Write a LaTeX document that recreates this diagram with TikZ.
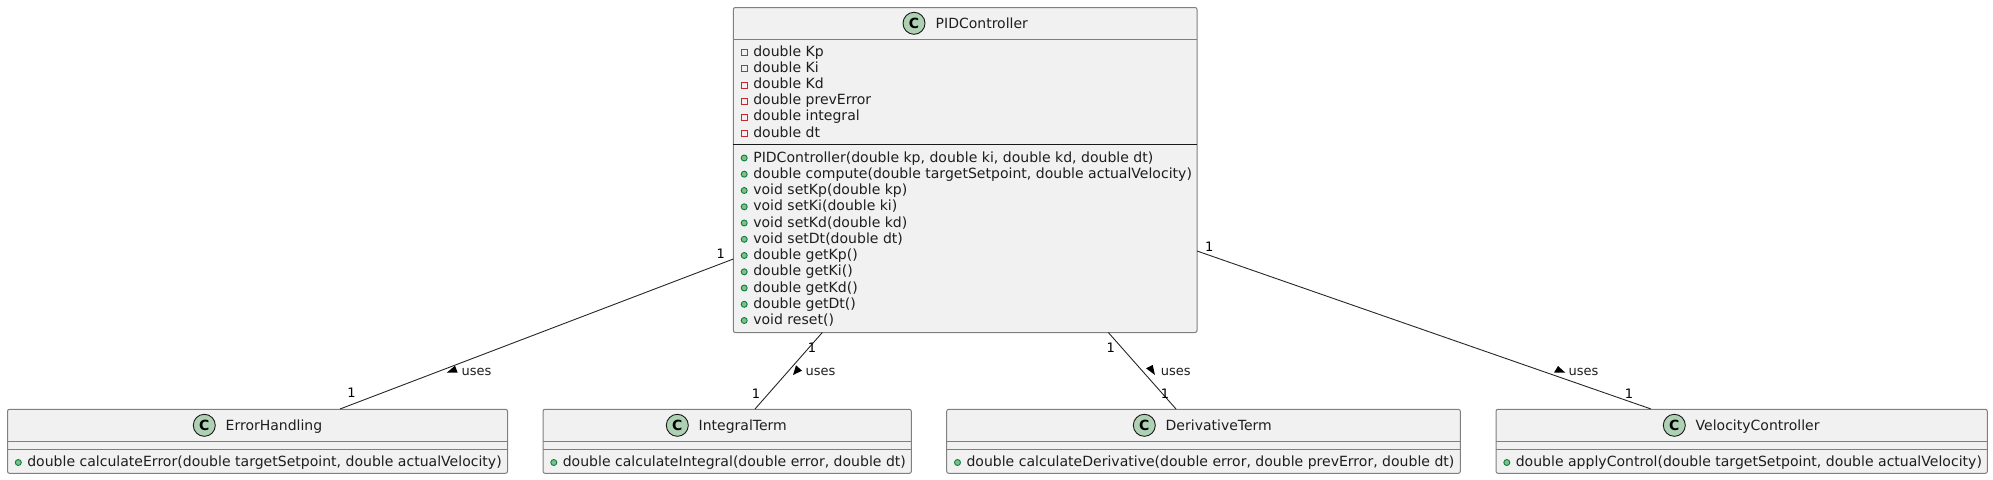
\documentclass[tikz,border=0pt]{standalone}
\usepackage{fontspec}
\setmainfont{DejaVu Sans}
\definecolor{boxfill}{HTML}{F1F1F1}
\definecolor{boxline}{HTML}{7F7F7F}
\definecolor{txt}{HTML}{1E1E1E}
\definecolor{iconfill}{HTML}{ADD1B2}
\definecolor{pubfill}{HTML}{84BE84}
\definecolor{publine}{HTML}{038048}
\definecolor{privline}{HTML}{C82930}
\tikzset{
  x=1pt,y=-1pt,
  umlbox/.style={draw=boxline,fill=boxfill,line width=1pt,rounded corners=2pt},
  sepline/.style={draw=boxline,line width=1pt},
  blacksep/.style={draw=black!90,line width=1pt},
  member/.style={anchor=base west,inner sep=0pt,outer sep=0pt,text=txt,font=\fontsize{14.04}{16}\selectfont},
  classname/.style={anchor=base west,inner sep=0pt,outer sep=0pt,text=txt,font=\fontsize{14}{16}\selectfont},
  classicon/.style={circle,draw=black!90,fill=iconfill,line width=0.9pt,minimum size=22pt,inner sep=0pt,font=\bfseries\fontsize{14}{14}\selectfont},
  pubdot/.style={circle,draw=publine,fill=pubfill,line width=0.9pt,minimum size=6pt,inner sep=0pt},
  privsq/.style={rectangle,draw=privline,fill=boxfill,line width=0.9pt,minimum size=6pt,inner sep=0pt},
  rel/.style={draw=black!85,line width=0.9pt},
  mult/.style={inner sep=0pt,text=black,font=\fontsize{13}{14}\selectfont},
  rellabel/.style={anchor=base west,inner sep=0pt,text=txt,font=\fontsize{13}{14}\selectfont},
  tip/.style={fill=black,draw=none}
}
\begin{document}
\begin{tikzpicture}
\useasboundingbox (0,0) rectangle (1993,479);
% PIDController
\path[umlbox] (733.3,7.5) rectangle (1197,332.5);
\coordinate (pidL) at (733.3,259);
\coordinate (pidR) at (1197,251);
\coordinate (pidB1) at (822.3,332.5);
\coordinate (pidB2) at (1108.3,332.5);
\draw[sepline] (733.3,39.5) -- (1197,39.5);
\draw[blacksep] (733.3,144.3) -- (1197,144.3);
\node[classicon] (picon) at (914,23.3) {C};
\node[classname] (pname) at (935.7,28) {PIDController};
\foreach \yy/\tt in {56/double Kp,72.2/double Ki,88.5/double Kd,104.7/double prevError,120.9/double integral,137.1/double dt}{
  \node[privsq] at (744.2,\yy-3.5) {};
  \node[member] at (753.3,\yy) {\tt};
}
\foreach \yy/\tt in {162/{PIDController(double kp, double ki, double kd, double dt)},178.2/{double compute(double targetSetpoint, double actualVelocity)},194.5/{void setKp(double kp)},210.8/{void setKi(double ki)},227/{void setKd(double kd)},243.3/{void setDt(double dt)},259.5/{double getKp()},275.8/{double getKi()},292/{double getKd()},308.3/{double getDt()},324.5/{void reset()}}{
  \node[pubdot] at (744.2,\yy-4) {};
  \node[member] at (753.3,\yy) {\tt};
}
% lower classes
\foreach \nm/\l/\r/\ic/\tx/\ttl/\mem in {
 err/7.5/507.5/204.3/225.7/ErrorHandling/{double calculateError(double targetSetpoint, double actualVelocity)},
 int/543/911.3/677.3/698.7/IntegralTerm/{double calculateIntegral(double error, double dt)},
 der/946.7/1460.3/1144.3/1165.7/DerivativeTerm/{double calculateDerivative(double error, double prevError, double dt)},
 vel/1496/1987.3/1674.3/1695.7/VelocityController/{double applyControl(double targetSetpoint, double actualVelocity)}}{
  \path[umlbox] (\l,409.3) rectangle (\r,473.3);
  \draw[sepline] (\l,441.3) -- (\r,441.3);
  \draw[sepline] (\l,449.3) -- (\r,449.3);
  \node[classicon] (\nm icon) at (\ic,425.3) {C};
  \node[classname] (\nm name) at (\tx,430) {\ttl};
  \node[pubdot] at (\l+10.8,462.5) {};
  \node[member] at (\l+19.8,466.6) {\mem};
}
\coordinate (errT) at (340,409);
\coordinate (intT) at (755,409);
\coordinate (derT) at (1176,409);
\coordinate (velT) at (1651,409);
\draw[rel] (pidL) -- (errT);
\draw[rel] (pidB1) -- (intT);
\draw[rel] (pidB2) -- (derT);
\draw[rel] (pidR) -- (velT);
% multiplicities
\node[mult] at (720.7,254) {1};
\node[mult] at (351.5,393) {1};
\node[mult] at (812,347.7) {1};
\node[mult] at (756,393.3) {1};
\node[mult] at (1110.7,347.7) {1};
\node[mult] at (1165,393.3) {1};
\node[mult] at (1209.3,246.7) {1};
\node[mult] at (1629,393.3) {1};
% labels
\node[rellabel] at (461.5,375) {uses};
\node[rellabel] at (805.3,375) {uses};
\node[rellabel] at (1160.7,375) {uses};
\node[rellabel] at (1568.5,375) {uses};
\fill[tip] (446.7,372.7) -- (455,365.7) -- (457.7,372.7) -- cycle;
\fill[tip] (796,365.3) -- (802,370.7) -- (793,375) -- cycle;
\fill[tip] (1146,368.3) -- (1152.7,365) -- (1155,375) -- cycle;
\fill[tip] (1554,372.7) -- (1558,366) -- (1565.3,372.7) -- cycle;
\end{tikzpicture}
\end{document}
